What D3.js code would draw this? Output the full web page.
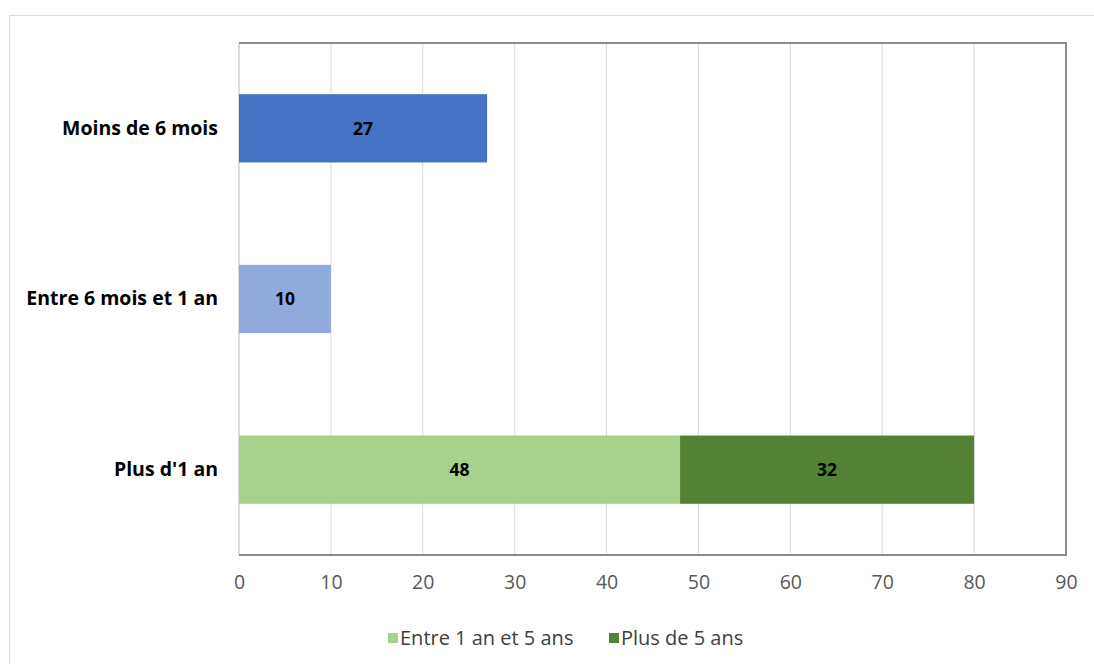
<!DOCTYPE html>
<html><head><meta charset="utf-8">
<script src="https://cdn.jsdelivr.net/npm/d3@7"></script>
<style>
html,body{margin:0;padding:0;background:#fff;}
svg{display:block;}
</style></head>
<body><svg id="c" width="1094" height="664"></svg>
<script>
const categories = ["Moins de 6 mois", "Entre 6 mois et 1 an", "Plus d'1 an"];
const seriesNames = ["Moins de 6 mois", "Entre 6 mois et 1 an", "Entre 1 an et 5 ans", "Plus de 5 ans"];
const moinsDe6Mois = [27, 0, 0];
const entre6MoisEt1An = [0, 10, 0];
const entre1AnEt5Ans = [0, 0, 48];
const plusDe5Ans = [0, 0, 32];
const seriesColors = ["#4472C4", "#8FAADC", "#A9D18E", "#548235"];
const legendSeries = ["Entre 1 an et 5 ans", "Plus de 5 ans"];
const xTicks = [0, 10, 20, 30, 40, 50, 60, 70, 80, 90];

const svg = d3.select("#c");
const W = 1094, H = 664;
const m = {left: 239, right: 1066, top: 43, bottom: 555};
const font = "'Open Sans', sans-serif";

// outer chart frame
svg.append("rect").attr("x", 9.5).attr("y", 15.5).attr("width", W + 20).attr("height", H + 20)
  .attr("fill", "#fff").attr("stroke", "#d9d9d9").attr("stroke-width", 1);

const x = d3.scaleLinear().domain([0, 90]).range([m.left, m.right]);
const y = d3.scaleBand().domain(categories).range([m.top, m.bottom]).paddingInner(0.6).paddingOuter(0.3);

const table = categories.map((c, i) => ({
  cat: c,
  "Moins de 6 mois": moinsDe6Mois[i],
  "Entre 6 mois et 1 an": entre6MoisEt1An[i],
  "Entre 1 an et 5 ans": entre1AnEt5Ans[i],
  "Plus de 5 ans": plusDe5Ans[i]
}));
const stacked = d3.stack().keys(seriesNames)(table);
const color = d3.scaleOrdinal().domain(seriesNames).range(seriesColors);

// gridlines
svg.append("g").selectAll("line").data(xTicks.slice(1, -1)).join("line")
  .attr("x1", d => x(d)).attr("x2", d => x(d))
  .attr("y1", m.top).attr("y2", m.bottom)
  .attr("stroke", "#d9d9d9").attr("stroke-width", 1);

// plot frame
svg.append("line").attr("x1", m.left).attr("x2", m.left).attr("y1", m.top).attr("y2", m.bottom)
  .attr("stroke", "#d0d0d0").attr("stroke-width", 1.5);
svg.append("path")
  .attr("d", `M${m.left},${m.top}H${m.right}V${m.bottom}H${m.left}`)
  .attr("fill", "none").attr("stroke", "#8c8c8c").attr("stroke-width", 2);

// bars
const layers = svg.append("g").selectAll("g").data(stacked).join("g")
  .attr("fill", d => color(d.key));
layers.selectAll("rect").data(d => d.filter(v => v[1] - v[0] > 0).map(v => ({v, key: d.key}))).join("rect")
  .attr("x", d => x(d.v[0]))
  .attr("width", d => x(d.v[1]) - x(d.v[0]))
  .attr("y", d => y(d.v.data.cat))
  .attr("height", y.bandwidth());

// data labels
layers.selectAll("text").data(d => d.filter(v => v[1] - v[0] > 0)).join("text")
  .attr("x", d => (x(d[0]) + x(d[1])) / 2)
  .attr("y", d => y(d.data.cat) + y.bandwidth() / 2)
  .attr("dy", "0.36em")
  .attr("text-anchor", "middle")
  .attr("font-family", font).attr("font-weight", "bold").attr("font-size", 17.5)
  .attr("fill", "#000")
  .text(d => d[1] - d[0]);

// y axis labels
const yAxis = svg.append("g").attr("transform", `translate(${m.left},0)`)
  .call(d3.axisLeft(y).tickSize(0).tickPadding(21));
yAxis.select(".domain").remove();
yAxis.selectAll("text").attr("font-family", font).attr("font-weight", "bold")
  .attr("font-size", 19.5).attr("fill", "#000");

// x axis labels
const xAxis = svg.append("g").attr("transform", `translate(0,${m.bottom})`)
  .call(d3.axisBottom(x).tickValues(xTicks).tickSize(0).tickPadding(20));
xAxis.select(".domain").remove();
xAxis.selectAll("text").attr("font-family", font).attr("font-size", 19.5).attr("fill", "#595959");

// legend
const legendX = [388, 609];
const lg = svg.append("g").selectAll("g").data(legendSeries).join("g")
  .attr("transform", (d, i) => `translate(${legendX[i]},638)`);
lg.append("rect").attr("x", 0).attr("y", -5).attr("width", 10).attr("height", 10)
  .attr("fill", d => color(d));
lg.append("text").attr("x", 12).attr("y", 0).attr("dy", "0.36em")
  .attr("font-family", font).attr("font-size", 20).attr("fill", "#404040")
  .text(d => d);
</script></body></html>
